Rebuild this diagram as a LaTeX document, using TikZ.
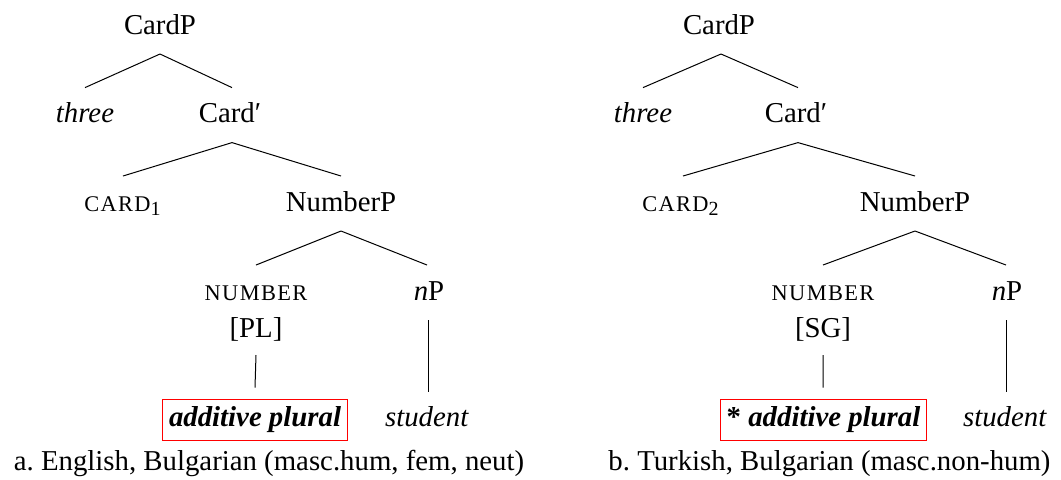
\documentclass[tikz,border=0pt]{standalone}
\usepackage{fontspec}
\setmainfont{Liberation Serif}
\newcommand{\smc}[1]{{\fontsize{11.2}{13}\selectfont\addfontfeature{LetterSpace=6}#1}}
\begin{document}
\begin{tikzpicture}[x=0.5pt,y=-0.5pt,
  lab/.style={anchor=base,inner sep=0pt,font=\fontsize{14.4}{17}\selectfont},
  redbox/.style={lab,draw=red,line width=0.5pt,inner xsep=3.2pt,inner ysep=0pt,text height=13.5pt,text depth=7pt},
  edge/.style={line width=0.5pt}]
\useasboundingbox (0,0) rectangle (1061,479);
% ---------- left tree ----------
\node[lab] (La) at (160,34) {CardP};
\node[lab] (Lb) at (85,122) {\textit{three}};
\node[lab] (Lc) at (230,122) {Card′};
\node[lab] (Ld) at (123,211) {\smc{CARD}\textsubscript{1}};
\node[lab] (Le) at (341,211) {NumberP};
\node[lab] (Lf) at (256,300) {\smc{NUMBER}};
\node[lab] (Lg) at (256,337) {[PL]};
\node[lab] (Lh) at (429,300) {\textit{n}P};
\node[redbox] (Li) at (255,426) {\textbf{\textit{additive plural}}};
\node[lab] (Lj) at (427,426) {\textit{student}};
\node[lab] (Lk) at (269,470) {a.\ English, Bulgarian (masc.hum, fem, neut)};
\draw[edge] ([yshift=-10pt]La.base) -- ([yshift=17.2pt]Lb.base);
\draw[edge] ([yshift=-10pt]La.base) -- ([xshift=1pt,yshift=17.2pt]Lc.base);
\draw[edge] ([xshift=1pt,yshift=-10.3pt]Lc.base) -- ([yshift=17.5pt]Ld.base);
\draw[edge] ([xshift=1pt,yshift=-10.3pt]Lc.base) -- ([yshift=17.5pt]Le.base);
\draw[edge] ([yshift=-10pt]Le.base) -- ([yshift=17.5pt]Lf.base);
\draw[edge] ([yshift=-10pt]Le.base) -- ([xshift=-1pt,yshift=17.5pt]Lh.base);
\draw[edge] ([yshift=-9pt]Lg.base) -- ([yshift=5.5pt]Li.north);
\draw[edge] ([xshift=-0.5pt,yshift=-10pt]Lh.base) -- ([xshift=0.5pt,yshift=17pt]Lj.base);
% ---------- right tree ----------
\node[lab] (Ra) at (719,34) {CardP};
\node[lab] (Rb) at (643,122) {\textit{three}};
\node[lab] (Rc) at (796,122) {Card′};
\node[lab] (Rd) at (681,211) {\smc{CARD}\textsubscript{2}};
\node[lab] (Re) at (915,211) {NumberP};
\node[lab] (Rf) at (823,300) {\smc{NUMBER}};
\node[lab] (Rg) at (823,337) {[SG]};
\node[lab] (Rh) at (1007,300) {\textit{n}P};
\node[redbox] (Ri) at (823.5,426) {\textbf{*} \textbf{\textit{additive plural}}};
\node[lab] (Rj) at (1005,426) {\textit{student}};
\node[lab] (Rk) at (829.5,470) {b.\ Turkish, Bulgarian (masc.non-hum)};
\draw[edge] ([xshift=1pt,yshift=-10pt]Ra.base) -- ([yshift=17.2pt]Rb.base);
\draw[edge] ([xshift=1pt,yshift=-10pt]Ra.base) -- ([xshift=1pt,yshift=17.2pt]Rc.base);
\draw[edge] ([xshift=1pt,yshift=-10.3pt]Rc.base) -- ([xshift=1pt,yshift=17.5pt]Rd.base);
\draw[edge] ([xshift=1pt,yshift=-10.3pt]Rc.base) -- ([yshift=17.5pt]Re.base);
\draw[edge] ([yshift=-10pt]Re.base) -- ([yshift=17.5pt]Rf.base);
\draw[edge] ([yshift=-10pt]Re.base) -- ([xshift=-0.5pt,yshift=17.5pt]Rh.base);
\draw[edge] ([yshift=-9pt]Rg.base) -- ([xshift=-0.2pt,yshift=5.5pt]Ri.north);
\draw[edge] ([xshift=-0.5pt,yshift=-10pt]Rh.base) -- ([xshift=0.5pt,yshift=17pt]Rj.base);
\end{tikzpicture}
\end{document}
